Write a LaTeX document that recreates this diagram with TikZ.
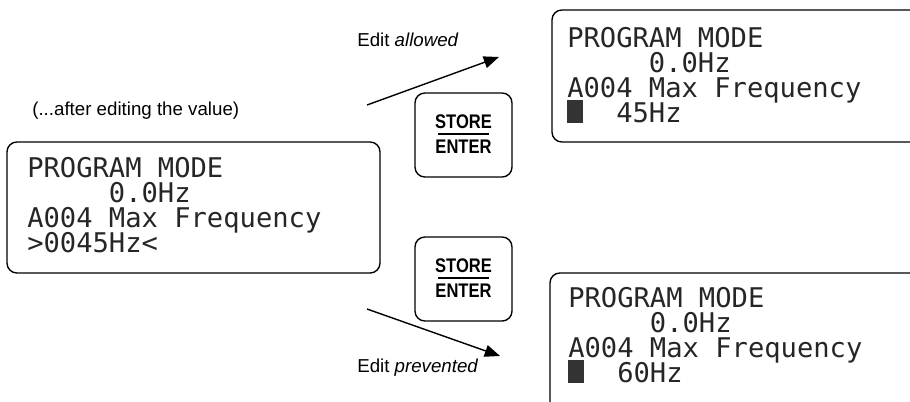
\documentclass[tikz,border=0pt]{standalone}
\usepackage{fontspec}
\setmainfont{Liberation Sans}
\newfontfamily\lcdfamily{DejaVu Sans Mono}
\newfontfamily\keyfamily[FakeStretch=0.84]{Liberation Sans}
\usetikzlibrary{arrows.meta,calc}

\begin{document}
\begin{tikzpicture}[x=0.025cm,y=-0.025cm,
  frame/.style={draw, line width=1pt, rounded corners=7pt},
  lcdtxt/.style={anchor=base west, inner sep=0pt, text=black!85, font=\lcdfamily\fontsize{19.3pt}{20pt}\selectfont},
  keytxt/.style={anchor=base, inner sep=0pt, font=\keyfamily\bfseries\fontsize{14pt}{16pt}\selectfont},
  note/.style={anchor=base west, inner sep=0pt, font=\fontsize{13.3pt}{15pt}\selectfont},
  flow/.style={line width=1pt, -{Triangle[length=0.38cm,width=0.3cm]}}]

\clip (0,0) rectangle (910,402);

\def\cursor{\rlap{\textcolor{black!80}{\rule[-0.02cm]{0.39cm}{0.58cm}}}\phantom{0}}

% display frames
\draw[frame] (7,142) rectangle (380,273);
\draw[frame] (552,10) rectangle (930,142);
\draw[frame] (550,273) rectangle (930,425);

% display texts
\foreach \sx/\sy/\n/\val in {27/177/edit/{>0045Hz<}, 567/47/ok/{\cursor\phantom{00}45Hz}, 568/307/no/{\cursor\phantom{00}60Hz}} {
  \node[lcdtxt] (\n1) at (\sx,\sy) {PROGRAM MODE};
  \node[lcdtxt] (\n2) at (\sx,\sy+25) {\phantom{PROGR}0.0Hz};
  \node[lcdtxt] (\n3) at (\sx,\sy+50) {A004 Max Frequency};
  \node[lcdtxt] (\n4) at (\sx,\sy+75) {\val};
}

% keys
\foreach \ky/\n in {93/keyA, 237/keyB} {
  \draw[frame] (415,\ky) rectangle (512,\ky+84);
  \node[keytxt] (\n up) at (463.5,\ky+35) {STORE};
  \node[keytxt] (\n dn) at (463.5,\ky+60) {ENTER};
  \draw[line width=1.8pt] ($(\n up.base west)+(3,6)$) -- ($(\n up.base east)+(-3,6)$);
}

\node[note] (hint) at (32,115) {(...after editing the value)};
\node[note] (allow) at (357,46) {Edit \textit{allowed}};
\node[note] (deny) at (357,372) {Edit \textit{prevented}};

\coordinate (upS) at (367,105);
\coordinate (upE) at (499,57);
\coordinate (dnS) at (367,309);
\coordinate (dnE) at (500,356);
\draw[flow] (upS) -- (upE);
\draw[flow] (dnS) -- (dnE);

\end{tikzpicture}
\end{document}
